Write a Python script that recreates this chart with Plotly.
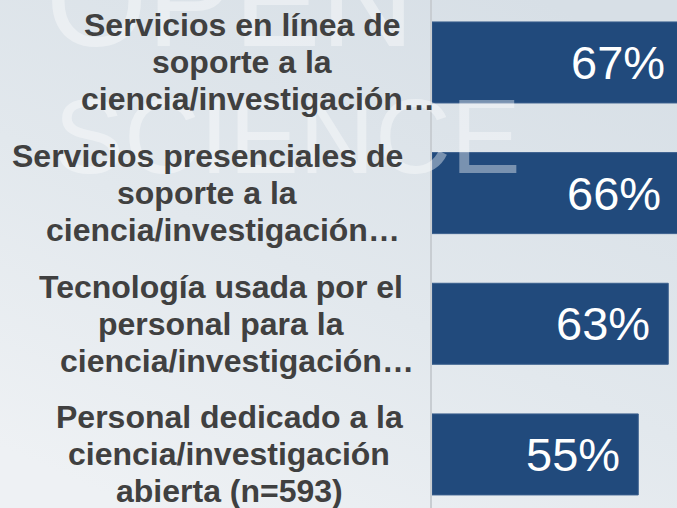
import base64
import plotly.graph_objects as go

# ---------------- data ----------------
categories = [
    "Servicios en línea de soporte a la ciencia/investigación…",
    "Servicios presenciales de soporte a la ciencia/investigación…",
    "Tecnología usada por el personal para la ciencia/investigación…",
    "Personal dedicado a la ciencia/investigación abierta (n=593)",
]
label_lines = [
    ["Servicios en línea de", "soporte a la", "ciencia/investigación…"],
    ["Servicios presenciales de", "soporte a la", "ciencia/investigación…"],
    ["Tecnología usada por el", "personal para la", "ciencia/investigación…"],
    ["Personal dedicado a la", "ciencia/investigación", "abierta (n=593)"],
]
values = [67, 66, 63, 55]
value_labels = ["67%", "66%", "63%", "55%"]

# ---------------- style ----------------
W, H = 677, 508
PLOT_LEFT = 432
X_MAX = 65.33
BAR_COLOR = "#214a7c"
LABEL_COLOR = "#404040"
LABEL_SIZE = 32
VALUE_SIZE = 47
LINE_STEP = 37
LABEL_CENTER_PX = [242, 207, 221, 229]
VALUE_PAD = 4.3  # in axis units (percent)

svg = (
    '<svg xmlns="http://www.w3.org/2000/svg" width="677" height="508">'
    '<defs><linearGradient id="g" x1="0.8" y1="0" x2="0.2" y2="1">'
    '<stop offset="0" stop-color="#d7dfe6"/>'
    '<stop offset="0.55" stop-color="#e2e8ed"/>'
    '<stop offset="1" stop-color="#eef1f4"/>'
    '</linearGradient></defs>'
    '<rect width="677" height="508" fill="url(#g)"/></svg>'
)
bg_src = "data:image/svg+xml;base64," + base64.b64encode(svg.encode()).decode()

fig = go.Figure()
fig.add_trace(go.Bar(
    x=values,
    y=categories,
    orientation="h",
    marker=dict(color=BAR_COLOR, line=dict(color="#3a5f8d", width=1)),
    hoverinfo="skip",
))

plot_w = W - PLOT_LEFT
annotations = []

# faint background words (part of the slide's photo)
annotations.append(dict(
    text="OPEN", xref="paper", yref="paper", x=(230 - PLOT_LEFT) / plot_w,
    y=1 - 1 / H, xanchor="center", yanchor="middle", showarrow=False,
    font=dict(family="Liberation Sans, Arial", size=130, color="rgba(255,255,255,0.4)"),
))
annotations.append(dict(
    text="SCIENCE", xref="paper", yref="paper", x=(287 - PLOT_LEFT) / plot_w,
    y=1 - 137 / H, xanchor="center", yanchor="middle", showarrow=False,
    font=dict(family="Liberation Sans, Arial", size=105, color="rgba(255,255,255,0.4)"),
))

# category labels, one annotation per line
for cat, lines, cx in zip(categories, label_lines, LABEL_CENTER_PX):
    n = len(lines)
    for i, line in enumerate(lines):
        shift = cx - PLOT_LEFT
        if line.endswith("…"):
            shift += LABEL_SIZE * 0.5
        annotations.append(dict(
            text=line, xref="paper", x=0, xshift=shift, xanchor="center",
            yref="y", y=cat, yshift=((n - 1) / 2 - i) * LINE_STEP, yanchor="middle",
            showarrow=False,
            font=dict(family="Liberation Sans, Arial", size=LABEL_SIZE,
                      color=LABEL_COLOR, weight="bold"),
        ))

# value labels inside bars
for cat, v, txt in zip(categories, values, value_labels):
    annotations.append(dict(
        text=txt, xref="x", x=v - VALUE_PAD, xanchor="right",
        yref="y", y=cat, yanchor="middle", showarrow=False,
        font=dict(family="Liberation Sans, Arial", size=VALUE_SIZE, color="white"),
    ))

fig.update_layout(
    width=W, height=H, autosize=False,
    margin=dict(l=PLOT_LEFT, r=0, t=0, b=0, pad=0),
    paper_bgcolor="#e2e8ed",
    plot_bgcolor="rgba(0,0,0,0)",
    bargap=0.38,
    showlegend=False,
    annotations=annotations,
    images=[dict(
        source=bg_src, xref="paper", yref="paper",
        x=-PLOT_LEFT / plot_w, y=1, sizex=W / plot_w, sizey=1,
        xanchor="left", yanchor="top", sizing="stretch", layer="below",
    )],
    xaxis=dict(range=[0, X_MAX], showgrid=False, zeroline=False,
               showticklabels=False, ticks="", fixedrange=True),
    yaxis=dict(type="category", categoryorder="array", categoryarray=categories,
               range=[3.41, -0.478], showgrid=False, zeroline=False,
               showticklabels=False, ticks="", showline=True,
               linecolor="#c8cdd2", linewidth=1.5, fixedrange=True),
)

fig.write_html(
    "out.html",
    config={"displayModeBar": False},
    post_script="document.body.style.margin='0';document.body.style.overflow='hidden';",
)
